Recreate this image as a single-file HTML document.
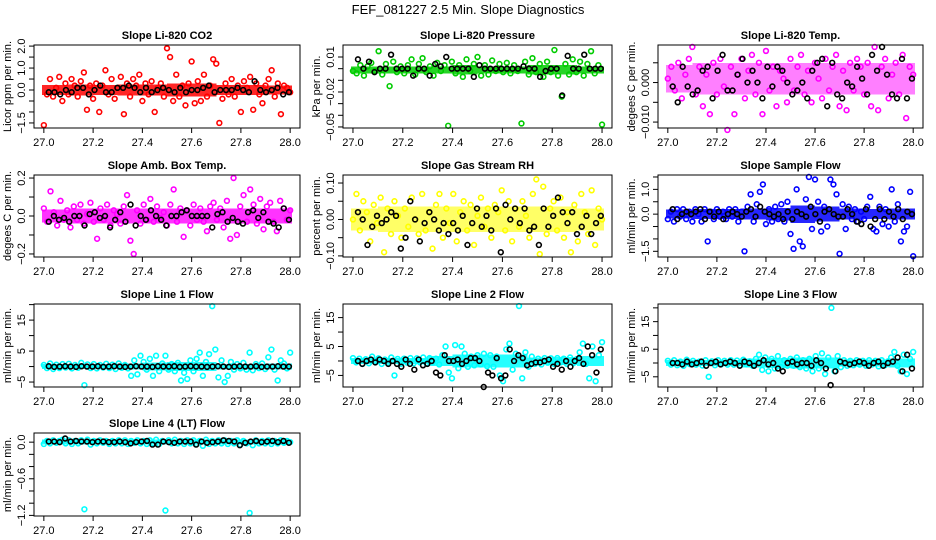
<!DOCTYPE html>
<html><head><meta charset="utf-8"><style>
html,body{margin:0;padding:0;background:#fff;}
svg{display:block;font-family:"Liberation Sans",sans-serif;}
</style></head><body>
<svg id="chart" width="936" height="540" viewBox="0 0 936 540" xmlns="http://www.w3.org/2000/svg">
<rect width="936" height="540" fill="#fff"/>
<text x="468" y="14" font-size="13" text-anchor="middle">FEF_081227  2.5 Min. Slope Diagnostics</text>
</svg>
<script>
const xTicks=[27.0,27.2,27.4,27.6,27.8,28.0];
const xTickLabels=["27.0","27.2","27.4","27.6","27.8","28.0"];
const titles=["Slope Li-820 CO2","Slope Li-820 Pressure","Slope Li-820 Temp.","Slope Amb. Box Temp.","Slope Gas Stream RH","Slope Sample Flow","Slope Line 1 Flow","Slope Line 2 Flow","Slope Line 3 Flow","Slope Line 4 (LT) Flow"];
const yTitles=["Licor ppm per min.","kPa per min.","degees C per min.","degees C per min.","percent per min.","ml/min per min.","ml/min per min.","ml/min per min.","ml/min per min.","ml/min per min."];
const colors=["#ff0000","#00cc00","#ff00ff","#ff00ff","#ffff00","#0000ff","#00ffff","#00ffff","#00ffff","#00ffff"];
const bandOpacity=[0.85,0.85,0.5,0.8,0.6,0.85,0.85,0.85,0.85,0.85];
const yDomains=[[-1.73,2.05],[-0.0509,0.0203],[-0.0115,0.0095],[-0.216,0.216],[-0.103,0.122],[-1.73,1.58],[-6.6,20.2],[-9.0,19.7],[-8.7,21.4],[-1.21,0.15]];
const yTicks=[[-1.5,-1,-0.5,0,0.5,1,1.5,2],[-0.05,-0.04,-0.03,-0.02,-0.01,0,0.01],[-0.01,-0.005,0,0.005],[-0.2,-0.1,0,0.1,0.2],[-0.1,-0.05,0,0.05,0.1],[-1.5,-1,-0.5,0,0.5,1,1.5],[-5,0,5,10,15,20],[-5,0,5,10,15],[-5,0,5,10,15,20],[-1.2,-1,-0.8,-0.6,-0.4,-0.2,0]];
const yTickLabels=[[[-1.5,"-1.5"],[0,"0.0"],[1,"1.0"],[2,"2.0"]],[[-0.05,"-0.05"],[-0.02,"-0.02"],[0.01,"0.01"]],[[-0.01,"-0.010"],[0,"0.000"]],[[-0.2,"-0.2"],[0,"0.0"],[0.2,"0.2"]],[[-0.1,"-0.10"],[0,"0.00"],[0.1,"0.10"]],[[-1.5,"-1.5"],[0,"0.0"],[1,"1.0"]],[[-5,"-5"],[5,"5"],[15,"15"]],[[-5,"-5"],[5,"5"],[15,"15"]],[[-5,"-5"],[5,"5"],[15,"15"]],[[-1.2,"-1.2"],[-0.6,"-0.6"],[0,"0.0"]]];

const coreCenter=[0.0,-0.001,0.001,0.0,0.0,0.0,0.0,0.0,0.0,0.0];
const co2Core=[0.22,0.25,0.22,0.25,0.25,0.3,0.3,0.22,0.22,0.2];
const presCore=[0.003,0.003,0.003,0.003,0.004,0.003,0.003,0.004,0.004,0.003];
const tempCore=[0.0035,0.004,0.004,0.004,0.004,0.004,0.004,0.004,0.004,0.004];
const boxCore=[0.035,0.04,0.04,0.04,0.04,0.04,0.04,0.04,0.04,0.04];
const rhCore=[0.03,0.035,0.035,0.035,0.035,0.035,0.035,0.035,0.035,0.03];
const sampleCore=[0.18,0.2,0.2,0.22,0.25,0.35,0.3,0.22,0.2,0.22];
const line1Core=[0.8,0.8,0.8,1.0,1.3,1.5,1.5,0.9,0.9,1.0];
const line2Core=[1.1,1.1,1.1,1.8,2.2,2.3,2.3,1.2,1.4,1.8];
const line3Core=[1.1,1.1,1.1,1.6,1.8,2.0,2.0,1.2,1.3,1.6];
const line4Core=[0.04,0.04,0.04,0.04,0.04,0.04,0.04,0.04,0.04,0.04];

const co2Color=[-1.6,-0.2,0.5,-0.3,0.1,0.6,-0.5,0.3,-0.2,0.5,0.2,-0.3,0.4,0.8,-0.9,0.2,-0.4,0.3,-1.0,0.2,0.9,-0.2,0.5,-0.4,0.1,0.6,-1.1,0.3,-0.3,0.5,0.2,0.7,-0.5,0.3,-0.2,0.4,-1.0,0.1,0.3,-0.3,1.9,1.5,-0.5,0.7,-0.3,0.2,-0.7,0.3,1.3,-0.6,0.4,-0.5,0.7,-0.3,0.2,1.4,1.2,-1.5,-0.4,0.3,-0.2,0.5,-0.3,0.2,-1.0,0.4,0.1,0.6,-0.9,0.3,-0.2,-0.6,0.2,0.5,0.9,-0.3,0.3,-1.1,0.2,0.1,-0.1];
const co2Black=[-0.1,-0.1,-0.2,0.0,-0.1,0.1,0.1,-0.2,0.0,0.2,-0.1,-0.1,0.1,0.1,0.2,0.1,-0.1,0.1,-0.1,0.0,0.1,0.0,-0.1,0.1,-0.1,0.0,0.0,0.1,0.2,-0.1,0.0,0.0,0.0,0.1,0.0,-0.1,0.4,0.0,-0.1,0.0,0.1,-0.2,-0.1];
const presColor=[-0.002,-0.004,0.003,-0.006,0.002,0.005,-0.002,0.015,-0.005,0.004,-0.015,0.006,-0.003,0.002,-0.004,0.003,0.008,-0.005,0.004,0.009,-0.003,0.002,-0.006,0.005,-0.002,0.003,-0.049,0.006,-0.004,0.003,-0.007,0.008,-0.002,0.004,0.010,-0.006,0.003,-0.005,0.007,-0.002,0.004,-0.003,0.005,-0.004,0.003,-0.002,-0.047,0.006,-0.005,0.009,-0.003,0.004,-0.007,0.006,-0.003,0.016,-0.006,-0.024,0.004,-0.005,0.008,-0.003,0.006,-0.006,0.004,0.015,-0.004,0.003,-0.048];
const presBlack=[0.008,0,0.006,-0.003,0,0,0.012,0,0,0,-0.006,0,0,-0.006,0.004,0.002,0.010,0,0,0,0,-0.007,0.003,0,0,0,0,0,0,0,0.002,0,0,-0.007,-0.002,0,0,-0.023,0.011,0,0,0.012,0,0,0];
const tempColor=[0.001,0.004,-0.002,0.005,-0.004,0.002,0.006,0.009,-0.003,0.004,-0.006,0.002,-0.008,0.005,-0.003,0.006,-0.001,-0.012,0.004,-0.008,0.002,0.006,-0.004,0.003,0.007,-0.003,0.005,-0.008,0.008,-0.002,0.004,-0.006,0.003,0.001,-0.005,0.006,-0.002,0.004,0.007,-0.003,0.003,-0.005,0.005,0.001,-0.004,0.006,-0.002,0.004,0.007,-0.006,0.003,-0.007,0.005,-0.002,0.006,0.004,-0.003,0.005,-0.006,0.009,-0.007,0.004,0.006,-0.004,0.002,0.005,-0.003,0.007,-0.009,0.004,0.002];
const tempBlack=[-0.001,-0.005,0.004,-0.001,-0.003,-0.002,0.003,0.004,-0.004,0.003,0.007,-0.002,-0.002,0.002,0.006,0.000,0.003,0.000,-0.004,0.004,-0.001,0.004,0.003,0.000,-0.003,-0.002,0.000,-0.004,0.003,0.005,0.006,-0.006,0.005,-0.003,-0.004,0.000,-0.001,0.004,0.001,-0.003,0.007,0.003,0.009,0.002,-0.003,-0.004,0.006,-0.004,0.001];
const boxColor=[0.04,-0.03,0.13,0.02,-0.05,0.08,-0.02,0.03,-0.06,0.05,-0.02,0.06,-0.04,0.01,0.07,-0.03,-0.12,0.04,-0.02,0.06,-0.05,0.03,0.01,-0.04,0.05,0.11,-0.13,-0.20,0.03,-0.04,0.06,-0.02,0.09,-0.03,0.05,-0.01,0.02,-0.05,0.06,0.14,-0.03,0.04,-0.11,0.03,-0.05,0.06,-0.02,0.04,-0.03,-0.08,0.05,0.07,-0.02,0.04,-0.06,0.08,-0.12,0.20,-0.10,0.05,0.11,-0.03,0.14,0.06,-0.04,0.09,-0.07,0.05,0.07,-0.03,-0.08,0.08,0.04,-0.02,0.03];
const boxBlack=[-0.03,0.00,-0.02,-0.01,-0.03,0.00,0.00,-0.05,0.01,0.02,-0.01,0.00,-0.06,-0.02,0.02,-0.03,0.06,-0.05,0.00,-0.02,0.03,0.00,-0.02,-0.05,0.00,0.00,0.02,0.03,0.00,0.00,0.00,0.00,-0.06,0.01,0.02,-0.03,-0.01,-0.03,-0.04,0.02,0.03,-0.01,0.02,-0.03,-0.04,-0.06,0.04,-0.02];
const rhColor=[0.00,0.07,-0.03,0.05,0.02,-0.06,0.04,-0.01,0.06,-0.09,0.03,-0.04,0.05,0.01,-0.05,0.03,-0.02,0.06,0.00,-0.04,0.07,-0.03,0.02,-0.08,0.04,0.07,-0.05,0.03,-0.01,0.07,-0.06,0.02,0.05,-0.03,0.04,-0.07,0.01,0.06,-0.02,0.03,-0.05,0.04,0.02,0.08,-0.03,0.05,-0.06,0.03,-0.02,0.05,0.01,-0.05,0.07,0.11,-0.095,0.09,-0.04,0.03,0.05,-0.03,0.06,-0.05,0.02,-0.09,0.04,-0.06,0.07,0.02,-0.04,0.08,-0.07,0.03,0.00];
const rhBlack=[0.02,0.00,-0.07,-0.02,0.01,-0.01,0.00,0.02,0.01,-0.08,-0.05,0.05,0.00,-0.06,-0.01,0.02,0.00,-0.03,-0.01,-0.04,-0.01,-0.03,0.01,-0.07,-0.01,0.03,-0.02,0.01,-0.03,0.03,-0.09,0.04,0.00,0.03,-0.01,0.03,-0.03,-0.02,-0.07,0.03,-0.02,0.01,0.06,0.02,-0.01,0.02,-0.04,-0.02,0.01,-0.04,-0.01,0.01];
const sampleColor=[-0.2,0.1,-0.3,0.2,-0.1,0.2,-0.2,0.1,-0.3,0.2,0.0,-0.3,0.2,-1.1,0.1,-0.2,0.2,-0.1,0.1,-0.2,0.2,-0.1,0.2,-0.3,0.1,-1.5,0.3,0.8,-0.3,0.4,0.9,1.2,-0.4,0.2,-0.3,0.3,-0.2,0.4,-0.3,0.5,-0.8,-1.4,1.0,-1.1,-1.3,0.6,1.5,-0.6,1.4,0.5,-0.7,0.3,-0.5,1.4,1.2,0.8,-1.6,0.4,-0.6,0.3,-0.2,0.2,-0.3,0.1,-0.2,0.3,0.7,-0.6,-0.7,0.3,-0.4,0.2,-0.5,1.0,-0.3,0.4,-1.1,-0.7,-0.5,0.9,-1.7];
const sampleBlack=[0.2,-0.2,0.0,0.1,0.0,0.1,0.2,-0.2,0.1,-0.1,0.1,-0.2,0.0,0.1,0.0,-0.1,0.1,0.2,-0.1,0.3,0.1,0.0,-0.1,0.0,-0.2,0.1,-0.2,0.1,0.0,-0.1,0.3,0.0,-0.3,0.1,0.2,0.0,-0.1,-0.1,0.2,0.0,-0.3,-0.4,0.2,-0.5,-0.2,0.2,-0.2,0.1,-0.1,0.2,-0.2,0.1,0.0];
const line1Color=[0.5,-0.5,1.0,-0.8,0.6,-0.5,0.8,-0.3,0.9,-0.6,0.5,-0.4,1.2,-6.0,0.7,-0.5,0.8,-0.6,0.5,-0.3,0.9,-0.5,0.6,-0.8,1.0,-0.4,0.5,-0.6,-3.0,2.0,-2.5,3.5,1.5,-1.0,2.5,-3.0,3.5,-1.5,1.0,3.5,-1.0,0.8,-1.5,1.2,-4.5,-2.0,-4.0,2.0,-1.5,2.5,4.5,-3.0,1.5,4.0,19.5,5.5,-3.5,2.0,-5.0,-3.0,1.5,-1.0,0.8,-0.6,1.2,-1.0,4.5,-1.2,0.8,-0.5,1.0,-0.8,3.0,5.5,-1.0,-4.5,2.0,1.0,-0.6,4.5];
const line1Black=[0.1,-0.1,0.0,0.1,0.0,-0.1,0.1,0.0,0.0,0.1,-0.1,0.0,0.1,0.0,-0.1,0.0,0.1,0.0,0.0,-0.1,0.1,0.0,0.0,0.1,-0.1,0.0,0.1,0.0,0.0,-0.1,0.0,0.1,0.0,-0.1,0.0,0.1,0.0,0.0,0.1,-0.1,0.0,0.0,0.1,0.0,0.0];
const line2Color=[1.0,-0.5,0.8,-1.0,0.6,-0.8,1.5,-0.4,0.9,-1.0,0.5,-0.6,1.2,-5.0,0.7,-1.0,0.8,-0.6,1.0,-0.8,0.9,-0.5,1.2,-0.8,1.0,-0.4,0.8,-1.2,2.0,5.0,-4.0,-6.0,5.5,-2.5,5.0,2.5,-2.0,1.5,-1.5,2.0,-1.2,2.5,-1.8,2.0,-2.0,1.5,-5.0,-7.0,4.0,6.0,-3.0,2.5,19.0,-6.0,3.0,-2.0,1.5,-1.0,0.8,-1.2,1.0,-0.6,0.9,-1.0,1.0,-0.5,0.8,-1.0,1.2,-0.8,0.6,3.0,6.0,-1.0,-6.0,5.0,-7.0,2.0,6.5];
const line2Black=[0,-1,0,0.5,-0.5,0.5,0,-1,0,-1,-2,0.5,-1,-3,0.5,-1.5,-1,0,-4,-5,2,0,0,0.5,-1,0,1,1,0,-9,-4,-5,1,-6,-5,4,0,2,1,-1.5,-1,-0.5,-0.5,0,0.5,-2,-1,-3,0,-2,0,1,-1,5,2,-4,4];
const line3Color=[0.8,-0.6,1.0,-0.8,0.5,-1.0,1.2,-0.4,0.8,-0.6,0.5,-0.9,1.0,-5.0,0.6,-0.8,1.0,-0.5,0.8,-0.6,1.0,-0.6,0.9,-0.8,1.2,-0.5,0.6,-1.0,1.5,3.0,-2.5,2.0,-3.0,1.5,-2.0,2.5,-1.5,1.0,-1.0,1.5,-1.0,2.0,-1.5,1.0,-2.0,1.5,-3.0,2.5,-2.0,3.5,-4.0,2.0,20.0,-3.0,2.5,-1.5,1.0,-1.0,0.8,-0.8,1.0,-0.6,0.8,-1.0,1.0,-0.5,0.8,-1.2,1.0,-0.8,0.6,2.0,4.0,-1.0,-3.0,3.0,-4.0,1.5,4.0];
const line3Black=[0,0,-0.5,0.5,-0.5,0,0.5,-1,0,0.5,-0.5,0,0.5,0,-1,0.5,0,-1,0,1,-0.5,0,-2,-3,0,0.5,-0.5,0,0,-1,1,0,-2,-8,-3,0.5,0,-0.5,0,0.5,0,-1,0,0.5,-1,0,0.5,2,-3,3,-2];
const line4Color=[-0.03,0.02,-0.02,0.03,-0.01,0.02,0.04,-0.02,0.03,-0.03,0.02,-0.02,0.03,-1.10,0.04,-0.04,0.02,-0.02,0.03,-0.01,0.02,-0.03,0.02,-0.02,0.03,-0.02,0.03,-0.03,0.02,-0.01,0.03,-0.02,0.02,-0.03,0.03,-0.02,0.04,-0.03,0.02,-1.12,0.03,-0.02,0.04,-0.02,0.02,-0.03,0.03,-0.02,0.03,-0.03,0.02,-0.06,0.04,-0.03,0.02,-0.02,0.03,-0.02,0.03,-0.03,0.02,-0.02,0.03,-0.04,0.02,-0.02,-1.16,-0.05,0.03,-0.02,0.02,-0.02,0.03,-0.03,0.02,-0.02,0.03,-0.01,0.02,0.00];
const line4Black=[0.01,0.01,0.00,0.06,0.01,0.02,0.01,0.01,0.00,0.01,0.01,0.00,0.00,0.01,0.00,-0.02,0.00,0.01,0.02,-0.04,-0.04,0.01,0.00,-0.01,0.01,0.01,0.01,-0.04,0.01,-0.01,0.00,0.01,0.03,0.02,0.01,-0.05,-0.01,0.01,0.02,0.00,0.01,0.02,0.00,0.02,-0.01];

const colorSeries=[co2Color,presColor,tempColor,boxColor,rhColor,sampleColor,line1Color,line2Color,line3Color,line4Color];
const blackSeries=[co2Black,presBlack,tempBlack,boxBlack,rhBlack,sampleBlack,line1Black,line2Black,line3Black,line4Black];
const coreSeries=[co2Core,presCore,tempCore,boxCore,rhCore,sampleCore,line1Core,line2Core,line3Core,line4Core];

const colX=[[34,300],[343,612],[658,923]];
const rowY=[[45,128],[175,257],[304,387],[433,516]];
const svg=document.getElementById('chart');
const NS='http://www.w3.org/2000/svg';
function mk(tag,attrs,parent){const e=document.createElementNS(NS,tag);for(const k in attrs)e.setAttribute(k,attrs[k]);parent.appendChild(e);return e;}

for(let p=0;p<10;p++){
  const c=colX[p%3], r=rowY[Math.floor(p/3)];
  const g=mk('g',{},svg);
  
  
  const x0=c[0],x1=c[1],yt=r[0],yb=r[1];
  const w=x1-x0;
  const xs=v=>x0+(v-26.96)/(1.08)*w;
  const yd=yDomains[p];
  const ys=v=>yb-(v-yd[0])/(yd[1]-yd[0])*(yb-yt);
  const cx=(x0+x1)/2;
  const t=mk('text',{x:cx,y:yt-6,'font-size':11,'font-weight':'bold','text-anchor':'middle'},g);
  
  
  t.textContent=titles[p];
  const core=coreSeries[p], cc=coreCenter[p];
  core.forEach((s,i)=>{
    const xa=xs(27+i*0.1)-(i===0?2:0), xb=xs(27+(i+1)*0.1)+(i===core.length-1?2:0);
    const band=mk('rect',{x:xa,y:ys(cc+s),width:xb-xa,height:ys(cc-s)-ys(cc+s),fill:colors[p],'fill-opacity':bandOpacity[p],'shape-rendering':'crispEdges'},g);
    
    
  });
  const cs=colorSeries[p];
  cs.forEach((v,i)=>{
    const pt=mk('circle',{cx:xs(27+i/(cs.length-1)),cy:ys(v),r:2.4,fill:'none',stroke:colors[p],'stroke-width':1.6},g);
    
    
  });
  const bs=blackSeries[p];
  bs.forEach((v,i)=>{
    const pt=mk('circle',{cx:xs(27.02+0.975*i/(bs.length-1)),cy:ys(v),r:2.4,fill:'none',stroke:'#000','stroke-width':1.6},g);
    
    
  });
  const box=mk('rect',{x:x0,y:yt,width:w,height:yb-yt,fill:'none',stroke:'#000','stroke-width':1},g);
  
  
  xTicks.forEach((v,i)=>{
    const X=xs(v);
    mk('line',{x1:X,x2:X,y1:yb,y2:yb+5,stroke:'#000'},g);
    const lt=mk('text',{x:X,y:yb+18,'font-size':11,'text-anchor':'middle'},g);
    
    
    lt.textContent=xTickLabels[i];
  });
  const yt2=yTicks[p];
  yt2.forEach(v=>{const Y=ys(v);mk('line',{x1:x0,x2:x0-5,y1:Y,y2:Y,stroke:'#000'},g);});
  yTickLabels[p].forEach(([v,s])=>{
    const Y=ys(v), X=x0-9;
    const lt=mk('text',{x:X,y:Y,'font-size':11,'text-anchor':'middle',transform:`rotate(-90 ${X} ${Y})`},g);
    
    
    lt.textContent=s.replace('-','\u2212');
  });
  const TX=x0-23, TY=(yt+yb)/2;
  const yl=mk('text',{x:TX,y:TY,'font-size':11,'text-anchor':'middle',transform:`rotate(-90 ${TX} ${TY})`},g);
  
  
  yl.textContent=yTitles[p];
}
</script>
</body></html>
